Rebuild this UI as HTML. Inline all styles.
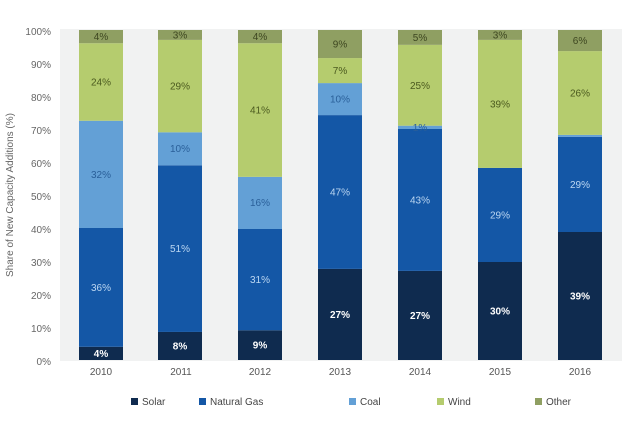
<!DOCTYPE html>
<html><head><meta charset="utf-8"><style>
body{margin:0;background:#fff;}
svg text{font-family:"Liberation Sans",sans-serif;}
.s{fill:#0f2b4f}.g{fill:#1457a6}.c{fill:#63a0d6}.w{fill:#b5cc6e}.o{fill:#8f9f62}
.ts{fill:#fff;font-weight:bold}.tg{fill:#bcd7f2}.tc{fill:#2a5f99}.tw{fill:#4b5a1f}.to{fill:#3d4620}
</style></head><body>
<svg width="632" height="419" viewBox="0 0 632 419" xmlns="http://www.w3.org/2000/svg">
<rect x="60" y="29" width="562" height="332" fill="#f1f2f2"/>
<g font-size="10" fill="#666" text-anchor="end">
<text x="51" y="35">100%</text><text x="51" y="68">90%</text><text x="51" y="101">80%</text>
<text x="51" y="134">70%</text><text x="51" y="167">60%</text><text x="51" y="200">50%</text>
<text x="51" y="233">40%</text><text x="51" y="266">30%</text><text x="51" y="299">20%</text>
<text x="51" y="332">10%</text><text x="51" y="365">0%</text>
</g>
<text transform="translate(13,195) rotate(-90)" font-size="10" fill="#666" text-anchor="middle">Share of New Capacity Additions (%)</text>
<g>
<rect class="s" x="79" y="346.8" width="44" height="13.2"/><rect class="g" x="79" y="228" width="44" height="118.8"/><rect class="c" x="79" y="120.75" width="44" height="107.25"/><rect class="w" x="79" y="43.2" width="44" height="77.55"/><rect class="o" x="79" y="30" width="44" height="13.2"/>
<rect class="s" x="158" y="331.95" width="44" height="28.05"/><rect class="g" x="158" y="165.3" width="44" height="166.65"/><rect class="c" x="158" y="132.3" width="44" height="33"/><rect class="w" x="158" y="39.9" width="44" height="92.4"/><rect class="o" x="158" y="30" width="44" height="9.9"/>
<rect class="s" x="238" y="330.3" width="44" height="29.7"/><rect class="g" x="238" y="229" width="44" height="101.3"/><rect class="c" x="238" y="176.85" width="44" height="52.15"/><rect class="w" x="238" y="43.2" width="44" height="133.65"/><rect class="o" x="238" y="30" width="44" height="13.2"/>
<rect class="s" x="318" y="268.9" width="44" height="91.1"/><rect class="g" x="318" y="115.1" width="44" height="153.8"/><rect class="c" x="318" y="83.1" width="44" height="32"/><rect class="w" x="318" y="58.05" width="44" height="25.05"/><rect class="o" x="318" y="30" width="44" height="28.05"/>
<rect class="s" x="398" y="270.9" width="44" height="89.1"/><rect class="g" x="398" y="129" width="44" height="141.9"/><rect class="c" x="398" y="125.7" width="44" height="3.3"/><rect class="w" x="398" y="44.85" width="44" height="80.85"/><rect class="o" x="398" y="30" width="44" height="14.85"/>
<rect class="s" x="478" y="262" width="44" height="98"/><rect class="g" x="478" y="167.9" width="44" height="94.1"/><rect class="w" x="478" y="39.9" width="44" height="128"/><rect class="o" x="478" y="30" width="44" height="9.9"/>
<rect class="s" x="558" y="232" width="44" height="128"/><rect class="g" x="558" y="136.9" width="44" height="95.1"/><rect class="c" x="558" y="134.9" width="44" height="2"/><rect class="w" x="558" y="51.1" width="44" height="83.8"/><rect class="o" x="558" y="30" width="44" height="21.1"/>
</g>
<g font-size="10" text-anchor="middle">
<text class="ts" x="101" y="357">4%</text><text class="tg" x="101" y="291">36%</text><text class="tc" x="101" y="178">32%</text><text class="tw" x="101" y="85.5">24%</text><text class="to" x="101" y="40">4%</text>
<text class="ts" x="180" y="349.5">8%</text><text class="tg" x="180" y="252">51%</text><text class="tc" x="180" y="152">10%</text><text class="tw" x="180" y="89.5">29%</text><text class="to" x="180" y="38.5">3%</text>
<text class="ts" x="260" y="348.7">9%</text><text class="tg" x="260" y="283">31%</text><text class="tc" x="260" y="206">16%</text><text class="tw" x="260" y="113.5">41%</text><text class="to" x="260" y="40">4%</text>
<text class="ts" x="340" y="318">27%</text><text class="tg" x="340" y="195.5">47%</text><text class="tc" x="340" y="102.5">10%</text><text class="tw" x="340" y="74">7%</text><text class="to" x="340" y="47.5">9%</text>
<text class="ts" x="420" y="319">27%</text><text class="tg" x="420" y="203.5">43%</text><text class="tc" x="420" y="131">1%</text><text class="tw" x="420" y="89">25%</text><text class="to" x="420" y="41">5%</text>
<text class="ts" x="500" y="314.5">30%</text><text class="tg" x="500" y="218.5">29%</text><text class="tw" x="500" y="107.5">39%</text><text class="to" x="500" y="38.5">3%</text>
<text class="ts" x="580" y="299.5">39%</text><text class="tg" x="580" y="188">29%</text><text class="tw" x="580" y="96.5">26%</text><text class="to" x="580" y="44">6%</text>
</g>
<g font-size="10" fill="#555" text-anchor="middle">
<text x="101" y="375">2010</text><text x="181" y="375">2011</text><text x="260" y="375">2012</text>
<text x="340" y="375">2013</text><text x="420" y="375">2014</text><text x="500" y="375">2015</text><text x="580" y="375">2016</text>
</g>
<g font-size="10" fill="#444">
<rect x="131" y="398" width="7" height="7" fill="#0f2b4f"/><text x="142" y="405">Solar</text>
<rect x="199" y="398" width="7" height="7" fill="#1457a6"/><text x="210" y="405">Natural Gas</text>
<rect x="349" y="398" width="7" height="7" fill="#63a0d6"/><text x="360" y="405">Coal</text>
<rect x="437" y="398" width="7" height="7" fill="#b5cc6e"/><text x="448" y="405">Wind</text>
<rect x="535" y="398" width="7" height="7" fill="#8f9f62"/><text x="546" y="405">Other</text>
</g>
</svg>
</body></html>
